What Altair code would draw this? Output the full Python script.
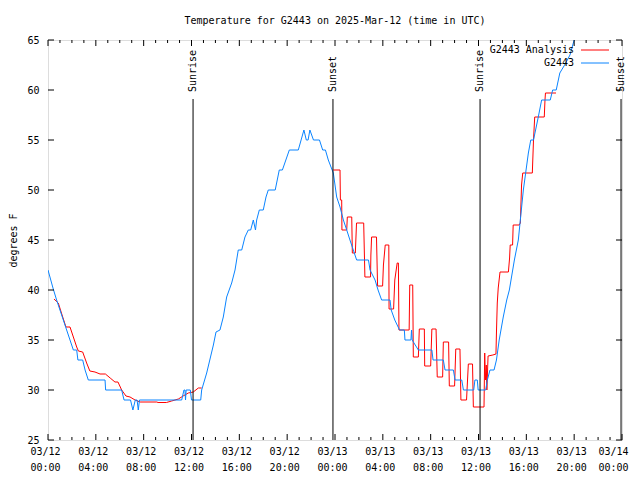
import altair as alt
import pandas as pd

# ---- data (hours since 2025-03-12 00:00 UTC, degrees F) ----
blue_hours = [0.0, 0.44, 0.72, 1.0, 1.28, 1.56, 1.84, 2.12, 2.4, 2.5, 2.9, 3.1, 3.37, 4.77, 4.82, 6.16,
              6.36, 6.9, 7.1, 7.3, 7.45, 7.55, 7.65, 11.18, 11.37, 11.45, 11.5, 11.55, 11.9, 12.0, 12.77,
              12.85, 13.27, 13.83, 14.05, 14.38, 14.66, 14.94, 15.36, 15.64, 15.91, 16.2, 16.47, 16.75,
              16.95, 17.17, 17.35, 17.45, 17.67, 18.0, 18.23, 18.42, 19.0, 19.34, 19.6, 20.18, 20.93,
              21.4, 21.6, 21.75, 21.9, 22.2, 22.7, 22.97, 23.2, 23.44, 23.86, 24.14, 24.42, 24.7, 24.98,
              25.25, 25.53, 25.81, 26.8, 26.93, 27.35, 27.6, 27.9, 28.6, 28.7, 29.0, 29.4, 29.8, 29.85,
              30.35, 30.4, 30.45, 30.97, 32.1, 32.2, 33.06, 33.2, 33.9, 34.04, 34.6, 34.74, 35.6, 35.7,
              35.9, 35.97, 36.6, 36.74, 36.96, 37.3, 37.5, 37.73, 38.07, 38.36, 38.58, 39.0, 39.33, 39.75,
              40.17, 40.37, 40.6, 41.0, 41.28, 42.0, 42.2, 42.5, 42.8, 43.2, 43.65, 44.0, 44.3]
blue_temps = [42, 40.1, 39, 38, 37, 36, 35, 34, 34, 33, 33, 32, 31, 31, 30, 30,
              29, 29, 28, 29, 29, 28, 29, 29, 30, 30, 29, 30, 30, 29, 29,
              30, 31.7, 34.5, 35.8, 36, 37.3, 39.3, 40.7, 42, 44, 44, 45.3, 46,
              46, 47, 46, 47, 48, 48, 49.3, 50, 50, 52, 52, 54, 54,
              56, 55, 55, 56, 55, 55, 54, 54, 53, 51.7, 49.3, 48.3, 47, 46,
              45, 44, 43, 43, 42, 41, 40, 39, 39, 38, 37, 36, 36, 35,
              35, 36, 35, 34, 34, 33, 33, 32, 32, 31, 31, 30, 30, 31,
              31, 30, 30, 31, 32, 32, 33, 35, 37.3, 39, 40, 43, 45, 50,
              53.7, 55, 55, 57.3, 59, 59, 60, 60, 61.7, 62.5, 63.5, 65, 66]

red_hours_1 = [0.5, 0.86, 1.23, 1.5, 1.84, 2.12, 2.4, 2.54, 2.9, 3.23, 3.5, 3.93, 4.35, 4.8, 5.2, 5.6,
               5.85, 6.16, 6.52, 6.86, 7.28, 7.7, 9.1, 9.2, 9.9, 10.34, 10.9, 11.3, 11.73, 12.15, 12.57, 12.85]
red_temps_1 = [39.1, 38.7, 37.3, 36.3, 36.3, 35.3, 34.3, 33.9, 33.8, 32.7, 31.9, 31.8, 31.6, 31.6, 31.2, 30.8,
               30.8, 30.0, 29.4, 29.3, 29.0, 28.8, 28.8, 28.75, 28.75, 28.9, 29.1, 29.4, 29.7, 29.8, 30.2, 30.2]

red_hours_2 = [23.86, 24.42, 24.45, 24.56, 24.58, 24.98, 25.03, 25.4, 25.45, 25.7, 25.8, 26.4, 26.5, 26.97,
               27.0, 27.06, 27.47, 27.56, 27.98, 28.05, 28.2, 28.5, 28.52, 28.9, 29.0, 29.2, 29.3, 29.35,
               30.2, 30.25, 30.5, 30.55, 30.97, 31.05, 31.47, 31.5, 32.0, 32.1, 32.45, 32.55, 33.0, 33.06,
               33.5, 33.56, 34.0, 34.1, 34.45, 34.53, 35.0, 35.15, 35.5, 35.57, 36.46, 36.52, 36.58, 36.65,
               36.7, 36.8, 37.2, 37.46, 37.5, 37.57, 37.65, 37.8, 38.5, 38.6, 38.65, 38.85, 38.9, 39.4,
               39.5, 39.6, 39.7, 40.5, 40.6, 40.7, 41.5, 41.56, 41.6, 42.48]
red_temps_2 = [52, 52, 49, 49, 46, 46, 47.3, 47.3, 43.7, 43.7, 46.7, 46.7, 41.3, 41.3,
               43.5, 45.3, 45.3, 40.4, 40.4, 42.5, 44.5, 44.5, 38.1, 38.1, 41, 42.7, 42.7, 36,
               36, 40.5, 40.5, 33.3, 33.3, 36.1, 36.1, 32.4, 32.4, 36.1, 36.1, 31.3, 31.3, 34.8,
               34.8, 30.4, 30.4, 34.1, 34.1, 29, 29, 32.6, 32.6, 28.3, 28.3, 33.7, 31, 32.5,
               30, 33.4, 33.5, 33.6, 35.7, 38.7, 40.2, 41.8, 41.8, 43.2, 44.5, 44.5, 46.5, 46.5,
               46.7, 50.5, 51.7, 51.7, 55, 57.3, 57.3, 59, 59.7, 59.7]

sun_hours = [12.13, 23.83, 36.13, 47.92]
sun_labels = ["Sunrise", "Sunset", "Sunrise", "Sunset"]

x_major = list(range(0, 49, 4))
x_minor = [h for h in range(0, 49) if h % 4 != 0]
y_ticks = [25, 30, 35, 40, 45, 50, 55, 60, 65]
legend_labels = ["G2443 Analysis", "G2443"]

RED = "#ff0000"
BLUE = "#0a84ff"
FONT = "DejaVu Sans Mono"
W, H = 574, 400

blue_df = pd.DataFrame({"h": blue_hours, "t": blue_temps})
red_df = pd.DataFrame({
    "h": red_hours_1 + red_hours_2,
    "t": red_temps_1 + red_temps_2,
    "seg": [1] * len(red_hours_1) + [2] * len(red_hours_2),
})
sun_df = pd.DataFrame({"h": sun_hours, "label": sun_labels})
xmaj_df = pd.DataFrame({"h": x_major})
xmin_df = pd.DataFrame({"h": x_minor})
y_df = pd.DataFrame({"t": y_ticks})

xscale = alt.Scale(domain=[0, 48], nice=False, zero=False)
yscale = alt.Scale(domain=[25, 65], nice=False, zero=False)

label_expr = ("['03/' + (12 + floor(datum.value / 24)), "
              "(datum.value % 24 < 10 ? '0' : '') + (datum.value % 24) + ':00']")

X = alt.X("h:Q", scale=xscale,
          axis=alt.Axis(values=x_major, labelExpr=label_expr, ticks=False, grid=False,
                        domain=False, title=None, labelPadding=6, labelLineHeight=16,
                        labelFlush=False, labelOverlap=False,
                        labelOffset={"condition": {"test": "datum.value == 48", "value": -9},
                                     "value": -3},
                        labelFont=FONT, labelFontSize=10, labelColor="black"))
Y = alt.Y("t:Q", scale=yscale,
          axis=alt.Axis(values=y_ticks, ticks=False, grid=False, domain=False,
                        title="degrees F", titleFont=FONT, titleFontSize=10,
                        titleFontWeight="normal", titlePadding=8, titleColor="black",
                        labelFont=FONT, labelFontSize=10, labelPadding=9, labelColor="black",
                        labelFlush=False))

red_line = alt.Chart(red_df).mark_line(color=RED, strokeWidth=1, clip=True).encode(
    x=X, y=Y, detail="seg:N", order="h:Q")
blue_line = alt.Chart(blue_df).mark_line(color=BLUE, strokeWidth=1, clip=True).encode(
    x=alt.X("h:Q", scale=xscale), y=alt.Y("t:Q", scale=yscale), order="h:Q")

sun_rules = alt.Chart(sun_df).mark_rule(color="black", strokeWidth=1).encode(
    x=alt.X("h:Q", scale=xscale), y=alt.value(59), y2=alt.value(H))
sun_text = alt.Chart(sun_df).mark_text(angle=270, align="left", baseline="middle",
                                       font=FONT, fontSize=10, color="black").encode(
    x=alt.X("h:Q", scale=xscale), y=alt.value(52), text="label:N")

xmaj_bot = alt.Chart(xmaj_df).mark_rule(color="black").encode(
    x=alt.X("h:Q", scale=xscale), y=alt.value(H), y2=alt.value(H - 6))
xmaj_top = alt.Chart(xmaj_df).mark_rule(color="black").encode(
    x=alt.X("h:Q", scale=xscale), y=alt.value(0), y2=alt.value(6))
xmin_bot = alt.Chart(xmin_df).mark_rule(color="black").encode(
    x=alt.X("h:Q", scale=xscale), y=alt.value(H), y2=alt.value(H - 3))
xmin_top = alt.Chart(xmin_df).mark_rule(color="black").encode(
    x=alt.X("h:Q", scale=xscale), y=alt.value(0), y2=alt.value(3))
y_left = alt.Chart(y_df).mark_rule(color="black").encode(
    y=alt.Y("t:Q", scale=yscale), x=alt.value(0), x2=alt.value(6))
y_right = alt.Chart(y_df).mark_rule(color="black").encode(
    y=alt.Y("t:Q", scale=yscale), x=alt.value(W), x2=alt.value(W - 6))

leg1_df = pd.DataFrame({"label": [legend_labels[0]]})
leg2_df = pd.DataFrame({"label": [legend_labels[1]]})
leg1_text = alt.Chart(leg1_df).mark_text(align="right", baseline="middle", font=FONT,
                                         fontSize=10, color="black").encode(
    x=alt.value(526), y=alt.value(10), text="label:N")
leg2_text = alt.Chart(leg2_df).mark_text(align="right", baseline="middle", font=FONT,
                                         fontSize=10, color="black").encode(
    x=alt.value(526), y=alt.value(23), text="label:N")
leg1_line = alt.Chart(leg1_df).mark_rule(color=RED, strokeWidth=1).encode(
    x=alt.value(533), x2=alt.value(561), y=alt.value(10))
leg2_line = alt.Chart(leg2_df).mark_rule(color=BLUE, strokeWidth=1).encode(
    x=alt.value(533), x2=alt.value(561), y=alt.value(23))

chart = alt.layer(
    red_line, blue_line, sun_rules, sun_text,
    xmaj_bot, xmaj_top, xmin_bot, xmin_top, y_left, y_right,
    leg1_text, leg2_text, leg1_line, leg2_line,
).properties(
    width=W, height=H,
    title=alt.TitleParams("Temperature for G2443 on 2025-Mar-12 (time in UTC)",
                          font=FONT, fontSize=10, fontWeight="normal", color="black",
                          anchor="middle", offset=9),
    autosize=alt.AutoSizeParams(type="none"),
    padding={"left": 40, "top": 32, "right": 10, "bottom": 32},
).configure_view(stroke="black", strokeWidth=1).configure(background="white")

chart.save("out.html", embed_options={"renderer": "svg", "actions": False})
